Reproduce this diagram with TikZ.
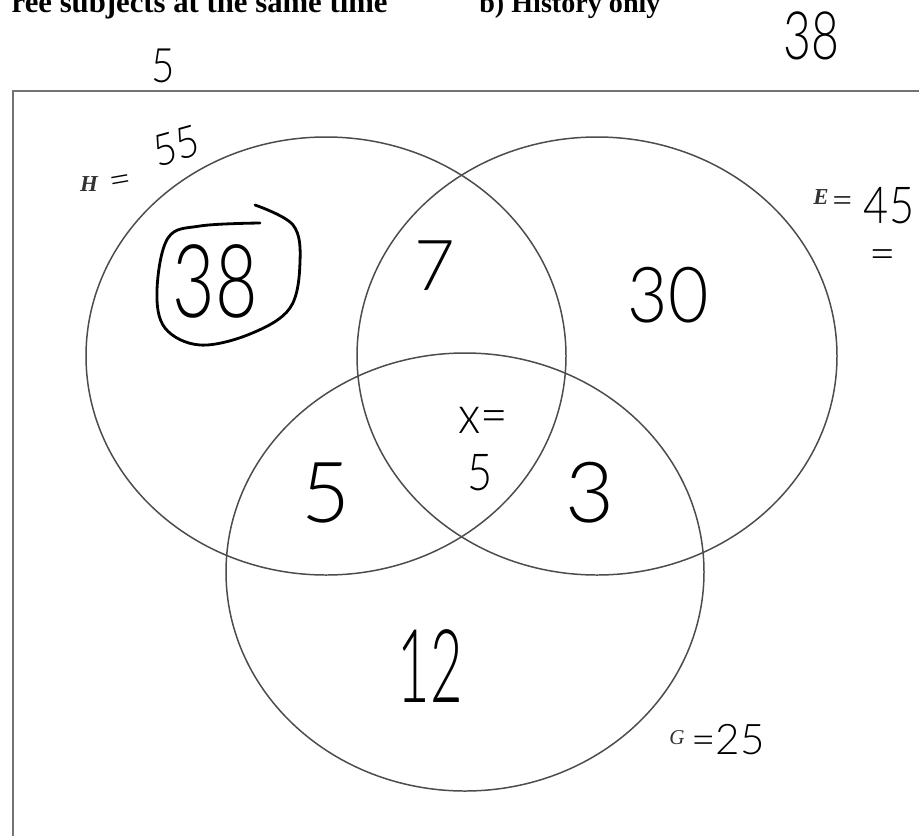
\documentclass[tikz,border=0pt]{standalone}
\usepackage{fontspec}
\setmainfont{Liberation Serif}
\newfontfamily\hand{Lato Light}
\newcommand\hsz[1]{\hand\fontsize{#1}{#1}\selectfont}
\begin{document}
\begin{tikzpicture}[x=0.02cm,y=-0.02cm,
  ring/.style={draw=black!70, line width=0.85pt},
  frame/.style={draw=black!55, line width=1.3pt},
  hw/.style={inner sep=0pt, text=black},
  setlabel/.style={inner sep=0pt, font=\bfseries\itshape\fontsize{13}{13}\selectfont, text=black!80},
  title/.style={inner sep=0pt, font=\bfseries\fontsize{17.5}{17.5}\selectfont}]
\useasboundingbox (0,0) rectangle (919,835);
\clip (0,0) rectangle (919,835);
% title (cut at top)
\node[title, anchor=base east] (t1) at (388,12) {ree subjects at the same time};
\node[title, anchor=base west, font=\bfseries\fontsize{16}{16}\selectfont] (t2) at (479,12) {b) History only};
% frame
\draw[frame] (13,91) rectangle (940,860);
% sets
\draw[ring] (326,356) ellipse [x radius=240, y radius=219];
\draw[ring] (597,356) ellipse [x radius=240, y radius=219];
\draw[ring] (465,572) ellipse [x radius=239, y radius=219];
% set labels
\node[setlabel] (H) at (89,184) {H};
\node[setlabel] (E) at (821,197) {E};
\node[setlabel, font=\itshape\fontsize{12}{12}\selectfont] (G) at (677,738) {G};
% handwriting
\node[hw, font=\hsz{27}, xscale=0.85] (n5top) at (163,66) {5};
\node[hw, font=\hsz{38}, xscale=0.72] (n38top) at (811,36) {38};
\node[hw, font=\hsz{22}, rotate=10] (heq) at (121,184) {=};
\node[hw, font=\hsz{25}, xscale=0.9, rotate=14] (h55) at (176,146) {55};
\node[hw, font=\hsz{58}, xscale=0.72] (c38) at (215,281) {38};
\draw[line width=1.6pt, line cap=round, line join=round] plot[smooth, tension=0.6] coordinates
  {(260,223) (200,226) (168,238) (157,290) (165,328) (200,345) (250,334) (290,308) (300,262) (293,225) (255,205)};
\node[hw, font=\hsz{40}] (n7) at (435,266) {7};
\node[hw, font=\hsz{44}, xscale=0.9] (n30) at (668,295) {30};
\node[hw, font=\hsz{22}] (eeq) at (843,205) {=};
\node[hw, font=\hsz{29}, xscale=0.85] (e45) at (889,206) {45};
\node[hw, font=\hsz{26}] (eeq2) at (883,260) {=};
\node[hw, font=\hsz{30}, xscale=0.9] (xeq) at (483,420) {x=};
\node[hw, font=\hsz{29}, xscale=0.85] (n5c) at (480,473) {5};
\node[hw, font=\hsz{48}] (n5l) at (326,493) {5};
\node[hw, font=\hsz{48}] (n3) at (590,493) {3};
\node[hw, font=\hsz{58}, xscale=0.55] (n12) at (430,666) {12};
\node[hw, font=\hsz{24}] (g25) at (728,740) {=25};
\end{tikzpicture}
\end{document}
